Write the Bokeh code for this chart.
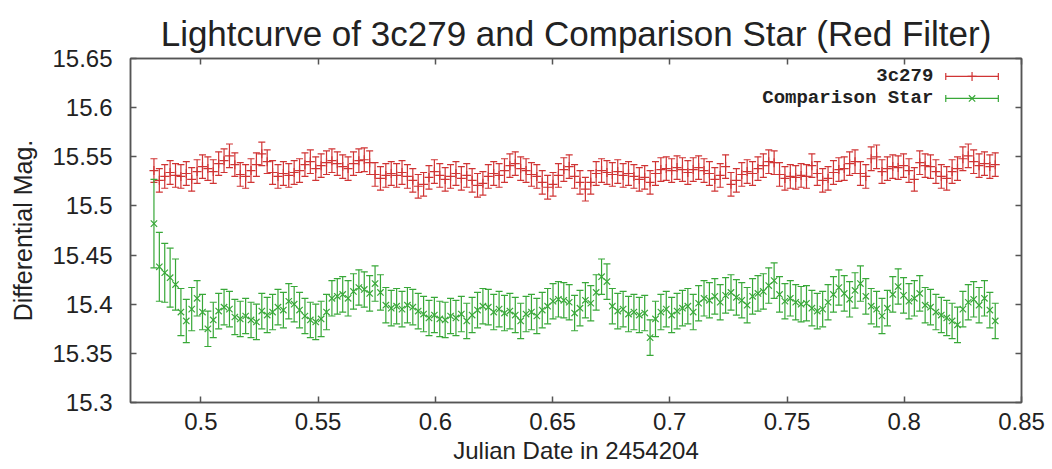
import numpy as np
from bokeh.plotting import figure
from bokeh.models import Range1d, LinearAxis, FixedTicker, CustomJSTickFormatter
from bokeh.core.properties import value
from bokeh.embed import file_html
from bokeh.resources import INLINE

# ---- data -------------------------------------------------------------
# observation times (JD - 2454204)
jd = [
    0.4800, 0.4823, 0.4846, 0.4869, 0.4892, 0.4915, 0.4938, 0.4961, 0.4984, 0.5007,
    0.5030, 0.5053, 0.5076, 0.5099, 0.5122, 0.5145, 0.5168, 0.5191, 0.5214, 0.5237,
    0.5260, 0.5283, 0.5306, 0.5329, 0.5352, 0.5375, 0.5398, 0.5421, 0.5444, 0.5467,
    0.5490, 0.5513, 0.5536, 0.5559, 0.5582, 0.5605, 0.5628, 0.5651, 0.5674, 0.5697,
    0.5720, 0.5743, 0.5766, 0.5789, 0.5812, 0.5835, 0.5858, 0.5881, 0.5904, 0.5927,
    0.5950, 0.5973, 0.5996, 0.6019, 0.6042, 0.6065, 0.6088, 0.6111, 0.6134, 0.6157,
    0.6180, 0.6203, 0.6226, 0.6249, 0.6272, 0.6295, 0.6318, 0.6341, 0.6364, 0.6387,
    0.6410, 0.6433, 0.6456, 0.6479, 0.6502, 0.6525, 0.6548, 0.6571, 0.6594, 0.6617,
    0.6640, 0.6663, 0.6686, 0.6709, 0.6732, 0.6755, 0.6778, 0.6801, 0.6824, 0.6847,
    0.6870, 0.6893, 0.6916, 0.6939, 0.6962, 0.6985, 0.7008, 0.7031, 0.7054, 0.7077,
    0.7100, 0.7123, 0.7146, 0.7169, 0.7192, 0.7215, 0.7238, 0.7261, 0.7284, 0.7307,
    0.7330, 0.7353, 0.7376, 0.7399, 0.7422, 0.7445, 0.7468, 0.7491, 0.7514, 0.7537,
    0.7560, 0.7583, 0.7606, 0.7629, 0.7652, 0.7675, 0.7698, 0.7721, 0.7744, 0.7767,
    0.7790, 0.7813, 0.7836, 0.7859, 0.7882, 0.7905, 0.7928, 0.7951, 0.7974, 0.7997,
    0.8020, 0.8043, 0.8066, 0.8089, 0.8112, 0.8135, 0.8158, 0.8181, 0.8204, 0.8227,
    0.8250, 0.8273, 0.8296, 0.8319, 0.8342, 0.8365, 0.8388,
]

# 3c279 differential magnitude
mag_3c279 = [
    15.536, 15.526, 15.530, 15.534, 15.531, 15.530, 15.533, 15.527, 15.535, 15.540,
    15.538, 15.535, 15.543, 15.546, 15.551, 15.542, 15.532, 15.530, 15.536, 15.542,
    15.553, 15.545, 15.534, 15.530, 15.533, 15.531, 15.534, 15.536, 15.542, 15.545,
    15.538, 15.541, 15.544, 15.546, 15.543, 15.540, 15.538, 15.543, 15.546, 15.547,
    15.544, 15.532, 15.528, 15.531, 15.533, 15.531, 15.534, 15.530, 15.526, 15.520,
    15.522, 15.529, 15.535, 15.531, 15.527, 15.530, 15.533, 15.528, 15.531, 15.526,
    15.521, 15.523, 15.530, 15.533, 15.531, 15.536, 15.541, 15.543, 15.538, 15.536,
    15.532, 15.530, 15.524, 15.519, 15.522, 15.531, 15.537, 15.540, 15.530, 15.524,
    15.517, 15.524, 15.533, 15.536, 15.534, 15.532, 15.535, 15.531, 15.533, 15.530,
    15.527, 15.529, 15.524, 15.533, 15.537, 15.538, 15.536, 15.539, 15.537, 15.534,
    15.537, 15.539, 15.536, 15.533, 15.527, 15.531, 15.540, 15.522, 15.526, 15.532,
    15.535, 15.533, 15.538, 15.541, 15.545, 15.544, 15.532, 15.528, 15.530, 15.529,
    15.531, 15.530, 15.541, 15.533, 15.526, 15.528, 15.534, 15.537, 15.538, 15.543,
    15.545, 15.533, 15.530, 15.548, 15.550, 15.535, 15.538, 15.540, 15.539, 15.541,
    15.536, 15.527, 15.544, 15.541, 15.540, 15.535, 15.530, 15.528, 15.535, 15.538,
    15.548, 15.551, 15.545, 15.541, 15.543, 15.540, 15.542,
]
err_3c279 = 0.012

# comparison star differential magnitude
mag_comp = [
    15.482, 15.438, 15.432, 15.427, 15.420, 15.392, 15.383, 15.395, 15.406, 15.392,
    15.375, 15.384, 15.393, 15.397, 15.395, 15.387, 15.385, 15.388, 15.384, 15.382,
    15.393, 15.389, 15.392, 15.397, 15.394, 15.403, 15.400, 15.394, 15.388, 15.384,
    15.382, 15.385, 15.392, 15.406, 15.408, 15.410, 15.406, 15.413, 15.417, 15.415,
    15.411, 15.421, 15.412, 15.399, 15.396, 15.398, 15.395, 15.399, 15.397, 15.393,
    15.390, 15.386, 15.389, 15.385, 15.384, 15.388, 15.386, 15.390, 15.383, 15.389,
    15.394, 15.398, 15.397, 15.392, 15.395, 15.391, 15.393, 15.389, 15.383, 15.390,
    15.392, 15.388, 15.394, 15.398, 15.403, 15.405, 15.404, 15.402, 15.391, 15.396,
    15.404, 15.401, 15.412, 15.428, 15.423, 15.398, 15.393, 15.395, 15.390, 15.392,
    15.389, 15.391, 15.366, 15.385, 15.392, 15.395, 15.389, 15.393, 15.396, 15.398,
    15.392, 15.401, 15.406, 15.404, 15.408, 15.402, 15.409, 15.412, 15.407, 15.404,
    15.399, 15.408, 15.411, 15.413, 15.419, 15.424, 15.410, 15.403, 15.406, 15.402,
    15.400, 15.401, 15.396, 15.393, 15.395, 15.402, 15.410, 15.417, 15.411, 15.405,
    15.414, 15.421, 15.408, 15.398, 15.395, 15.388, 15.396, 15.410, 15.418, 15.409,
    15.403, 15.406, 15.411, 15.399, 15.397, 15.392, 15.389, 15.386, 15.383, 15.379,
    15.395, 15.402, 15.405, 15.399, 15.406, 15.394, 15.383,
]
# larger errors at the start of the night, steady afterwards
err_comp_start = [0.045, 0.035, 0.030, 0.030, 0.026, 0.024, 0.022, 0.022]
err_comp_rest = 0.018

x_ticks = [0.5, 0.55, 0.6, 0.65, 0.7, 0.75, 0.8, 0.85]
y_ticks = [15.3, 15.35, 15.4, 15.45, 15.5, 15.55, 15.6, 15.65]
series_names = ["3c279", "Comparison Star"]
chart_title = "Lightcurve of 3c279 and Comparison Star (Red Filter)"

# ---- styling ----------------------------------------------------------
RED = "#d03434"
GREEN = "#38a838"
FRAME = "#555555"
TEXT = "#222222"
SANS = "Liberation Sans"

X0, X1 = 0.47, 0.85
Y0, Y1 = 15.3, 15.65

p = figure(
    width=1052, height=469,
    output_backend="svg", toolbar_location=None,
    x_range=Range1d(X0, X1), y_range=Range1d(Y0, Y1),
    min_border_left=130, min_border_right=31,
    min_border_top=58, min_border_bottom=67,
    background_fill_color="white", border_fill_color="white",
    outline_line_color=FRAME, outline_line_width=1.5,
)
p.grid.visible = False

p.title.text = chart_title
p.title.text_font = SANS
p.title.text_font_size = "35px"
p.title.text_font_style = "normal"
p.title.text_color = TEXT
p.title.align = "center"
p.title.vertical_align = "top"
p.title.standoff = 8

fmt = CustomJSTickFormatter(code="return tick.toFixed(2).replace(/0$/, '');")
blank = CustomJSTickFormatter(code="return '';")


def style_axis(ax, ticks, formatter, labels=True):
    ax.ticker = FixedTicker(ticks=ticks)
    ax.formatter = formatter
    ax.axis_line_color = FRAME
    ax.axis_line_width = 1.5
    ax.major_tick_line_color = FRAME
    ax.major_tick_line_width = 1.5
    ax.major_tick_in = 6
    ax.major_tick_out = 0
    ax.minor_tick_line_color = None
    ax.major_label_text_font = SANS
    ax.major_label_text_color = TEXT
    ax.major_label_text_font_size = "24px" if labels else "0px"
    ax.axis_label_text_font = SANS
    ax.axis_label_text_font_size = "24px"
    ax.axis_label_text_font_style = "normal"
    ax.axis_label_text_color = TEXT
    if not labels:
        ax.major_label_standoff = 0
        ax.axis_label_standoff = 0


xa = p.xaxis[0]
ya = p.yaxis[0]
style_axis(xa, x_ticks, fmt)
style_axis(ya, y_ticks, fmt)
xa.axis_label = "Julian Date in 2454204"
ya.axis_label = "Differential Mag."
ya.axis_label_text_font_size = "25px"
xa.major_label_standoff = 10
ya.major_label_standoff = 18
xa.axis_label_standoff = 4
ya.axis_label_standoff = 12

# mirrored ticks on the top and right borders
top = LinearAxis()
right = LinearAxis()
style_axis(top, x_ticks, blank, labels=False)
style_axis(right, y_ticks, blank, labels=False)
p.add_layout(top, "above")
p.add_layout(right, "right")

# ---- data glyphs ------------------------------------------------------
t = np.array(jd)
m1 = np.array(mag_3c279)
e1 = np.full_like(m1, err_3c279)
m2 = np.array(mag_comp)
e2 = np.array(err_comp_start + [err_comp_rest] * (len(mag_comp) - len(err_comp_start)))

CAP = 7


def errorbars(x, y, e, color, marker):
    p.segment(x0=x, y0=y - e, x1=x, y1=y + e, line_color=color, line_width=1.2)
    p.scatter(x=np.concatenate([x, x]), y=np.concatenate([y - e, y + e]),
              marker="dash", size=CAP, line_color=color, line_width=1.2)
    p.scatter(x=x, y=y, marker=marker, size=9, line_color=color, line_width=1.2)


errorbars(t, m1, e1, RED, "cross")
errorbars(t, m2, e2, GREEN, "x")


# ---- key (label, then errorbar sample) in the top-right corner --------
def fx(f):
    """fraction of the plotting area width -> x data value"""
    return X0 + f * (X1 - X0)


def fy(f):
    """fraction of the plotting area height (from the top) -> y data value"""
    return Y1 - f * (Y1 - Y0)


key_rows = [(series_names[0], RED, "cross", 0.052),
            (series_names[1], GREEN, "x", 0.116)]
for name, color, marker, row in key_rows:
    yy = fy(row)
    p.text(x=[fx(0.901)], y=[yy], text=[name], text_align="right",
           text_baseline="middle", text_font=value("Liberation Mono"),
           text_font_style="bold", text_font_size="19px", text_color=TEXT)
    xa0, xa1, xm = fx(0.915), fx(0.974), fx(0.9445)
    p.segment(x0=[xa0], y0=[yy], x1=[xa1], y1=[yy], line_color=color, line_width=1.2)
    p.scatter(x=[xa0, xa1], y=[yy, yy], marker="dash", angle=np.pi / 2,
              size=CAP, line_color=color, line_width=1.2)
    p.scatter(x=[xm], y=[yy], marker=marker, size=9, line_color=color, line_width=1.2)

open("out.html", "w").write(file_html(p, INLINE))
